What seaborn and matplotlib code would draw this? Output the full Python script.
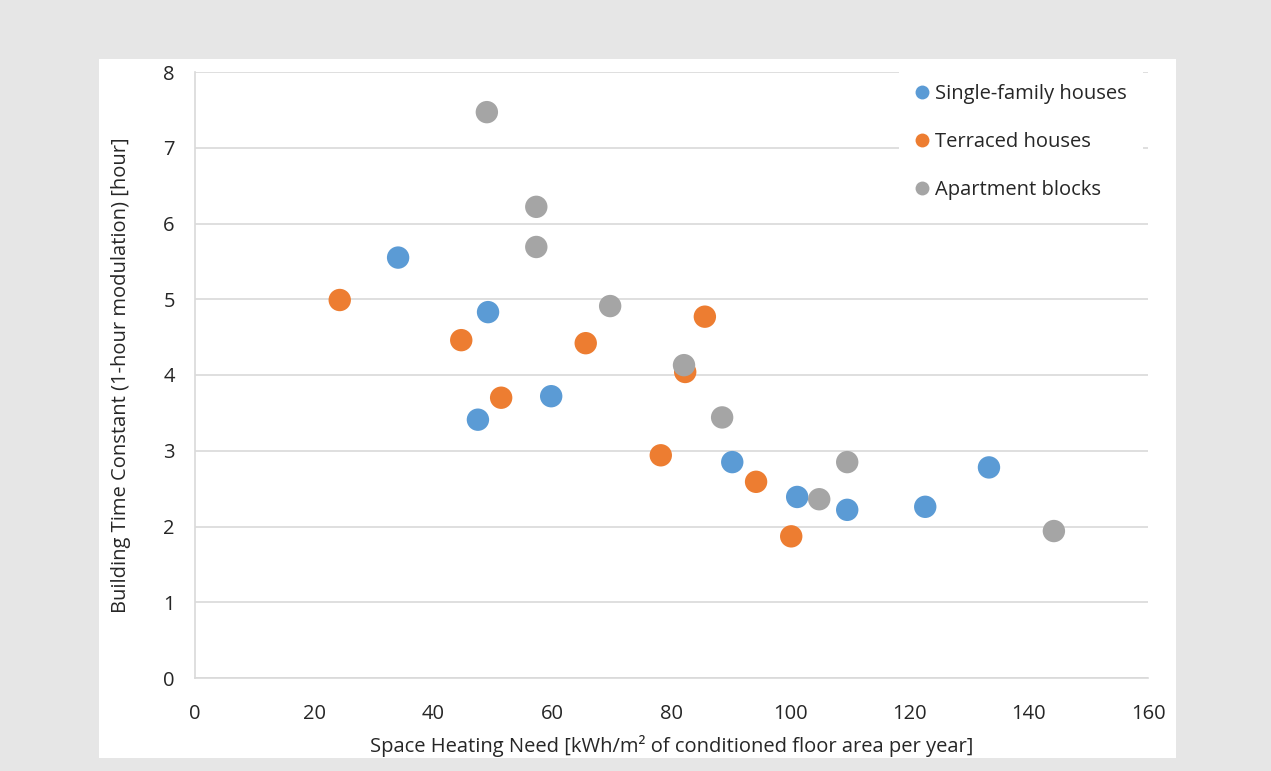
import numpy as np
import pandas as pd
import matplotlib
matplotlib.use("Agg")
import matplotlib.pyplot as plt
from matplotlib.patches import Rectangle
import seaborn as sns

# data
single_x = [34.1, 49.2, 47.5, 59.8, 90.2, 101.1, 109.5, 122.6, 133.3]
single_y = [5.55, 4.83, 3.41, 3.72, 2.85, 2.39, 2.22, 2.26, 2.78]

terraced_x = [24.3, 44.7, 51.4, 65.6, 85.6, 82.3, 78.2, 94.2, 100.1]
terraced_y = [4.99, 4.46, 3.70, 4.42, 4.77, 4.04, 2.94, 2.59, 1.87]

apartment_x = [49.0, 57.3, 57.3, 69.7, 82.1, 88.5, 109.5, 104.8, 144.2]
apartment_y = [7.47, 6.22, 5.69, 4.91, 4.13, 3.44, 2.85, 2.36, 1.94]

groups = ["Single-family houses", "Terraced houses", "Apartment blocks"]
colors = ["#5B9BD5", "#ED7D31", "#A5A5A5"]

x_ticks = [0, 20, 40, 60, 80, 100, 120, 140, 160]
y_ticks = [0, 1, 2, 3, 4, 5, 6, 7, 8]

df = pd.concat([
    pd.DataFrame({"x": single_x, "y": single_y, "group": groups[0]}),
    pd.DataFrame({"x": terraced_x, "y": terraced_y, "group": groups[1]}),
    pd.DataFrame({"x": apartment_x, "y": apartment_y, "group": groups[2]}),
])

sns.set_style("white")
plt.rcParams["font.family"] = ["Open Sans", "DejaVu Sans"]
FS = 14.5
TXT = "#262626"

W, H = 1271, 771
fig = plt.figure(figsize=(W / 100, H / 100), dpi=100, facecolor="#e6e6e6")

# white card behind the chart
fig.add_artist(Rectangle((99 / W, 1 - 758 / H), (1176 - 99) / W, (758 - 59) / H,
                         transform=fig.transFigure, facecolor="white",
                         edgecolor="none", zorder=-10))

ax = fig.add_axes([195 / W, 1 - 678 / H, (1148 - 195) / W, (678 - 72) / H])
ax.set_facecolor("white")

sns.scatterplot(data=df, x="x", y="y", hue="group", hue_order=groups,
                palette=colors, s=260, edgecolor="none", ax=ax, zorder=3,
                clip_on=False)

ax.set_xlim(0, 160)
ax.set_ylim(0, 8)
ax.set_xticks(x_ticks)
ax.set_yticks(y_ticks)
ax.tick_params(axis="x", length=0, pad=19, labelsize=FS, colors=TXT)
ax.tick_params(axis="y", length=0, pad=14.5, labelsize=FS, colors=TXT)
ax.grid(axis="y", color="#d9d9d9", linewidth=1.2)
ax.set_axisbelow(True)

for side in ["top", "right"]:
    ax.spines[side].set_visible(False)
for side in ["left", "bottom"]:
    ax.spines[side].set_color("#d9d9d9")
    ax.spines[side].set_linewidth(1.2)

ax.set_xlabel("Space Heating Need [kWh/m² of conditioned floor area per year]",
              fontsize=FS, color=TXT, labelpad=7.5)
ax.set_ylabel("Building Time Constant (1-hour modulation) [hour]",
              fontsize=FS, color=TXT, labelpad=23)

leg = ax.legend(loc="upper left", bbox_to_anchor=((899 - 195) / (1148 - 195), 1 + 4 / 606),
                frameon=True, fontsize=FS, labelspacing=1.4, handletextpad=0.3,
                borderpad=0.8, markerscale=0.62, handlelength=0.7,
                borderaxespad=0)
leg.get_frame().set_facecolor("white")
leg.get_frame().set_edgecolor("none")
leg.get_frame().set_alpha(1.0)
leg.set_zorder(5)
for t in leg.get_texts():
    t.set_color(TXT)

fig.savefig("out.png", dpi=100, facecolor=fig.get_facecolor())
